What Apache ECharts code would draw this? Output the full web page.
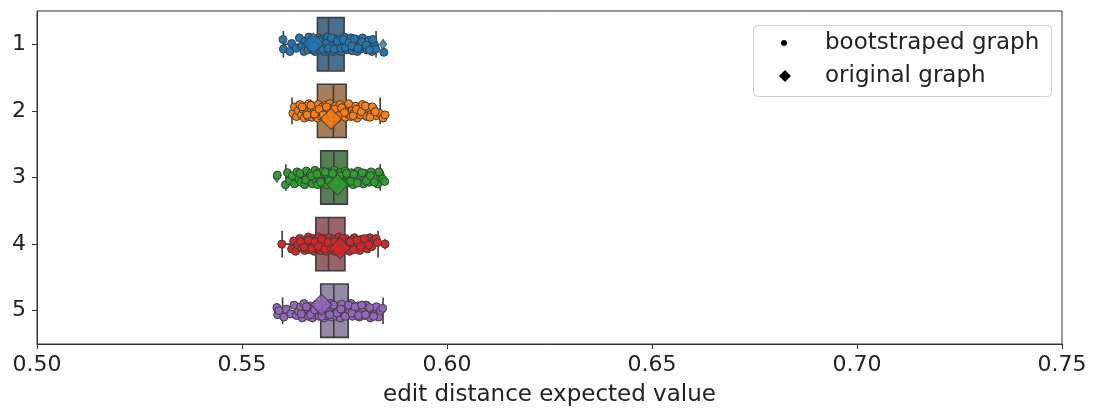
<!DOCTYPE html>
<html><head><meta charset="utf-8">
<script src="https://cdn.jsdelivr.net/npm/echarts@6/dist/echarts.min.js"></script>
<style>html,body{margin:0;padding:0;background:#fff}#c{width:1094px;height:408px}</style>
</head><body><div id="c"></div>
<script>
const categories = ['1','2','3','4','5'];
const xTicks = [0.50,0.55,0.60,0.65,0.70,0.75];
const palette = ['#1f77b4','#ff7f0e','#2ca02c','#d62728','#9467bd'];
const boxFill = ['#4a6f8e','#a77d5c','#567f56','#9a6367','#948aa5'];

// box statistics
const whiskerLow  = [0.5601,0.5622,0.5607,0.5598,0.5599];
const q1          = [0.5684,0.5684,0.5692,0.5680,0.5692];
const median      = [0.5711,0.5723,0.5724,0.5711,0.5724];
const q3          = [0.5749,0.5754,0.5757,0.5751,0.5759];
const whiskerHigh = [0.5827,0.5837,0.5837,0.5832,0.5844];
const fliers = [[0.5844,0],[0.5585,2],[0.5849,3],[0.5587,4]];

// original graph values with their strip jitter (category units)
const originalValue  = [0.5674,0.5717,0.5733,0.5739,0.5694];
const originalJitter = [-0.01,0.12,0.11,0.06,-0.09];

// bootstrapped values [value, jitter]
const boot1 = [[0.5600,-0.06],[0.5601,0.06],[0.5617,0.09],[0.5621,-0.01],[0.5632,0.05],[0.5640,-0.08],[0.5646,0.02],[0.5651,0.09],[0.5654,-0.04],[0.5661,0.07],[0.5663,-0.09],[0.5666,0.01],[0.5671,0.06],[0.5673,-0.05],[0.5678,0.09],[0.5679,-0.02],[0.5684,0.04],[0.5686,-0.08],[0.5690,0.07],[0.5693,-0.01],[0.5695,0.03],[0.5699,-0.07],[0.5701,0.09],[0.5703,-0.03],[0.5706,0.05],[0.5708,-0.09],[0.5712,0.01],[0.5713,0.08],[0.5716,-0.05],[0.5719,0.03],[0.5721,-0.02],[0.5723,0.09],[0.5726,-0.07],[0.5729,0.04],[0.5731,-0.01],[0.5734,0.07],[0.5737,-0.06],[0.5739,0.02],[0.5742,0.09],[0.5745,-0.03],[0.5748,0.05],[0.5750,-0.09],[0.5754,0.01],[0.5757,0.07],[0.5759,-0.05],[0.5763,0.03],[0.5766,-0.08],[0.5769,0.08],[0.5772,-0.02],[0.5776,0.04],[0.5779,-0.06],[0.5781,0.09],[0.5784,0.00],[0.5787,-0.04],[0.5790,0.06],[0.5794,-0.08],[0.5798,0.03],[0.5801,-0.02],[0.5805,0.07],[0.5809,-0.05],[0.5813,0.04],[0.5817,0.09],[0.5820,-0.03],[0.5824,0.02],[0.5826,0.06],[0.5846,0.10],
  [0.5668,-0.03],[0.5676,0.02],[0.5688,-0.05],[0.5697,0.06],[0.5705,-0.01],[0.5710,0.05],[0.5718,-0.08],[0.5725,0.06],[0.5733,-0.04],[0.5741,0.05],[0.5747,-0.06],[0.5752,0.04],[0.5761,-0.02],[0.5768,0.02],[0.5774,-0.07],[0.5783,0.05],[0.5792,-0.03],[0.5803,0.01],[0.5811,0.07],[0.5819,-0.06]];
const boot2 = [[0.5624,0.03],[0.5628,-0.05],[0.5633,0.07],[0.5637,0.00],[0.5641,-0.08],[0.5645,0.05],[0.5649,-0.02],[0.5652,0.09],[0.5655,-0.06],[0.5658,0.02],[0.5661,0.07],[0.5663,-0.09],[0.5666,0.04],[0.5669,-0.03],[0.5671,0.08],[0.5674,-0.06],[0.5676,0.01],[0.5679,0.06],[0.5681,-0.04],[0.5684,0.09],[0.5686,-0.08],[0.5689,0.03],[0.5691,-0.01],[0.5694,0.07],[0.5696,-0.05],[0.5699,0.02],[0.5702,0.09],[0.5704,-0.07],[0.5707,0.04],[0.5709,-0.02],[0.5712,0.06],[0.5714,-0.09],[0.5717,0.01],[0.5720,0.08],[0.5722,-0.04],[0.5725,0.05],[0.5728,-0.06],[0.5731,0.03],[0.5733,0.09],[0.5736,-0.01],[0.5739,-0.08],[0.5742,0.06],[0.5745,0.00],[0.5748,-0.05],[0.5752,0.08],[0.5755,-0.03],[0.5758,0.04],[0.5762,-0.07],[0.5766,0.07],[0.5769,-0.01],[0.5773,0.03],[0.5777,-0.06],[0.5781,0.09],[0.5785,-0.03],[0.5789,0.05],[0.5794,-0.08],[0.5799,0.02],[0.5804,0.07],[0.5809,-0.04],[0.5815,0.04],[0.5821,-0.02],[0.5828,0.06],[0.5835,0.03],[0.5844,0.09],[0.5849,0.05],
  [0.5647,-0.05],[0.5659,0.05],[0.5668,-0.07],[0.5677,0.04],[0.5688,-0.02],[0.5698,0.05],[0.5706,-0.05],[0.5716,0.03],[0.5726,-0.02],[0.5735,0.06],[0.5743,-0.04],[0.5750,0.02],[0.5760,-0.09],[0.5771,0.06],[0.5779,-0.02],[0.5791,0.01],[0.5801,-0.06],[0.5812,0.08],[0.5818,-0.05],[0.5825,0.01]];
const boot3 = [[0.5586,-0.03],[0.5606,0.09],[0.5611,-0.06],[0.5616,0.04],[0.5623,-0.02],[0.5628,0.08],[0.5634,-0.07],[0.5639,0.02],[0.5644,0.06],[0.5648,-0.04],[0.5653,0.09],[0.5657,-0.08],[0.5661,0.01],[0.5665,0.05],[0.5668,-0.05],[0.5672,0.08],[0.5675,-0.01],[0.5678,-0.09],[0.5681,0.04],[0.5684,0.09],[0.5687,-0.06],[0.5690,0.02],[0.5693,-0.02],[0.5696,0.07],[0.5698,-0.08],[0.5701,0.04],[0.5704,-0.04],[0.5707,0.09],[0.5710,0.01],[0.5713,-0.07],[0.5716,0.06],[0.5719,-0.02],[0.5722,0.03],[0.5725,-0.09],[0.5728,0.08],[0.5731,-0.04],[0.5734,0.02],[0.5737,0.06],[0.5740,-0.06],[0.5743,0.09],[0.5746,-0.01],[0.5749,0.04],[0.5752,-0.08],[0.5756,0.07],[0.5759,-0.03],[0.5763,0.02],[0.5767,-0.06],[0.5771,0.09],[0.5775,-0.01],[0.5779,0.05],[0.5783,-0.08],[0.5787,0.03],[0.5791,-0.03],[0.5796,0.08],[0.5800,-0.05],[0.5805,0.02],[0.5810,0.06],[0.5815,-0.07],[0.5820,0.04],[0.5826,-0.01],[0.5831,0.08],[0.5837,-0.04],[0.5843,0.02],[0.5848,0.05],
  [0.5641,-0.05],[0.5655,0.03],[0.5670,-0.02],[0.5683,-0.04],[0.5692,0.06],[0.5703,-0.07],[0.5712,0.04],[0.5721,-0.05],[0.5730,0.05],[0.5739,-0.02],[0.5748,0.07],[0.5755,-0.05],[0.5765,0.05],[0.5773,-0.04],[0.5781,0.07],[0.5793,-0.06],[0.5803,0.04],[0.5813,-0.02],[0.5823,0.06],[0.5834,-0.07]];
const boot4 = [[0.5597,0.00],[0.5621,0.06],[0.5626,-0.04],[0.5631,0.09],[0.5636,0.01],[0.5641,-0.07],[0.5645,0.05],[0.5649,-0.01],[0.5653,0.08],[0.5656,-0.05],[0.5659,0.03],[0.5662,-0.09],[0.5665,0.07],[0.5668,-0.02],[0.5671,0.04],[0.5673,-0.07],[0.5676,0.09],[0.5679,0.00],[0.5681,-0.05],[0.5684,0.06],[0.5687,-0.09],[0.5689,0.02],[0.5692,0.08],[0.5695,-0.03],[0.5697,0.05],[0.5700,-0.07],[0.5703,0.01],[0.5705,0.09],[0.5708,-0.04],[0.5711,0.04],[0.5713,-0.08],[0.5716,0.07],[0.5719,-0.01],[0.5722,0.03],[0.5724,-0.06],[0.5727,0.09],[0.5730,-0.02],[0.5733,0.05],[0.5736,-0.09],[0.5739,0.02],[0.5742,0.07],[0.5745,-0.04],[0.5748,0.01],[0.5752,-0.07],[0.5755,0.06],[0.5759,-0.01],[0.5762,0.09],[0.5766,-0.05],[0.5770,0.03],[0.5774,-0.08],[0.5778,0.05],[0.5782,-0.02],[0.5787,0.08],[0.5791,-0.06],[0.5796,0.02],[0.5801,-0.03],[0.5806,0.06],[0.5812,-0.08],[0.5817,0.03],[0.5822,-0.05],[0.5827,-0.07],[0.5831,-0.02],[0.5849,0.00],
  [0.5643,-0.03],[0.5651,0.04],[0.5661,-0.05],[0.5670,0.06],[0.5678,-0.03],[0.5686,0.03],[0.5694,-0.06],[0.5702,0.06],[0.5710,-0.02],[0.5718,0.05],[0.5726,-0.03],[0.5735,0.07],[0.5744,-0.07],[0.5753,0.03],[0.5764,-0.03],[0.5772,0.07],[0.5780,-0.05],[0.5789,0.03],[0.5799,-0.07],[0.5809,0.01]];
const boot5 = [[0.5585,-0.04],[0.5587,0.05],[0.5590,0.00],[0.5602,0.08],[0.5608,-0.02],[0.5619,0.04],[0.5627,-0.07],[0.5633,0.06],[0.5638,0.01],[0.5643,-0.05],[0.5647,0.09],[0.5651,-0.09],[0.5655,0.03],[0.5659,-0.02],[0.5662,0.07],[0.5666,-0.06],[0.5669,0.02],[0.5672,0.09],[0.5676,-0.04],[0.5679,0.05],[0.5682,-0.08],[0.5685,0.01],[0.5688,0.07],[0.5691,-0.03],[0.5694,0.04],[0.5697,-0.07],[0.5700,0.09],[0.5703,-0.01],[0.5706,0.06],[0.5709,-0.05],[0.5712,0.02],[0.5715,-0.09],[0.5718,0.08],[0.5721,-0.02],[0.5724,0.04],[0.5727,-0.06],[0.5730,0.07],[0.5733,0.00],[0.5736,-0.04],[0.5740,0.09],[0.5743,-0.08],[0.5746,0.03],[0.5750,-0.01],[0.5754,0.06],[0.5758,-0.05],[0.5762,0.02],[0.5766,-0.09],[0.5770,0.07],[0.5774,-0.02],[0.5778,0.04],[0.5782,-0.06],[0.5786,0.08],[0.5790,0.01],[0.5794,-0.04],[0.5799,0.06],[0.5803,-0.07],[0.5808,0.03],[0.5813,0.09],[0.5818,-0.02],[0.5823,0.05],[0.5828,-0.05],[0.5833,0.08],[0.5838,0.00],[0.5843,-0.03],
  [0.5645,0.04],[0.5657,-0.05],[0.5667,0.05],[0.5677,-0.01],[0.5686,-0.05],[0.5695,0.07],[0.5705,-0.03],[0.5714,0.05],[0.5723,-0.07],[0.5732,0.03],[0.5741,-0.02],[0.5752,0.07],[0.5760,-0.07],[0.5768,0.03],[0.5776,-0.05],[0.5784,0.06],[0.5792,-0.07],[0.5801,0.05],[0.5811,-0.04],[0.5821,0.07]];
const bootstrapped = [boot1, boot2, boot3, boot4, boot5];

const FONT = 'DejaVu Sans';
const EDGE = '#3d3d3d';
const JITTER_WIDTH = 1.2; // strip jitter spread factor

const boxData = categories.map((c, i) => [i, whiskerLow[i], q1[i], median[i], q3[i], whiskerHigh[i]]);

function renderBox(params, api) {
  const i = api.value(0);
  const band = api.size([0, 1])[1];
  const lo = api.coord([api.value(1), i]);
  const a = api.coord([api.value(2), i]);
  const m = api.coord([api.value(3), i]);
  const b = api.coord([api.value(4), i]);
  const hi = api.coord([api.value(5), i]);
  const cy = lo[1];
  const hb = band * 0.4, hc = band * 0.2;
  const ls = {stroke: EDGE, lineWidth: 1.6, fill: null};
  return {
    type: 'group',
    children: [
      {type: 'line', shape: {x1: lo[0], y1: cy, x2: a[0], y2: cy}, style: ls},
      {type: 'line', shape: {x1: b[0], y1: cy, x2: hi[0], y2: cy}, style: ls},
      {type: 'line', shape: {x1: lo[0], y1: cy - hc, x2: lo[0], y2: cy + hc}, style: ls},
      {type: 'line', shape: {x1: hi[0], y1: cy - hc, x2: hi[0], y2: cy + hc}, style: ls},
      {type: 'rect', shape: {x: a[0], y: cy - hb, width: b[0] - a[0], height: 2 * hb},
        style: {fill: boxFill[i], stroke: EDGE, lineWidth: 1.6}},
      {type: 'line', shape: {x1: m[0], y1: cy - hb, x2: m[0], y2: cy + hb}, style: ls}
    ]
  };
}

const series = [];
series.push({
  type: 'custom', name: 'box', xAxisIndex: 0, yAxisIndex: 1,
  renderItem: renderBox, data: boxData, z: 2,
  encode: {x: [1, 2, 3, 4, 5], y: 0}, silent: true
});
series.push({
  type: 'scatter', name: 'fliers', xAxisIndex: 0, yAxisIndex: 1, z: 3,
  symbol: 'diamond', symbolSize: [7, 10],
  data: fliers.map(f => ({value: [f[0], f[1]], itemStyle: {color: palette[f[1]]}})),
  itemStyle: {borderColor: EDGE, borderWidth: 1}, silent: true
});
bootstrapped.forEach((arr, i) => {
  series.push({
    type: 'scatter', name: 'boot' + i, xAxisIndex: 0, yAxisIndex: 1, z: 4,
    symbol: 'circle', symbolSize: 8,
    data: arr.map(p => [p[0], i + p[1] * JITTER_WIDTH]),
    itemStyle: {color: palette[i], borderColor: EDGE, borderWidth: 1, opacity: 1},
    silent: true
  });
});
series.push({
  type: 'scatter', name: 'original', xAxisIndex: 0, yAxisIndex: 1, z: 5,
  symbol: 'diamond', symbolSize: [21, 21],
  data: originalValue.map((v, i) => ({value: [v, i + originalJitter[i]], itemStyle: {color: palette[i]}})),
  itemStyle: {borderColor: EDGE, borderWidth: 1.2}, silent: true
});

const chart = echarts.init(document.getElementById('c'), null, {renderer: 'canvas'});
chart.setOption({
  animation: false,
  backgroundColor: '#fff',
  textStyle: {fontFamily: FONT},
  grid: {left: 37, right: 32, top: 11, bottom: 64, show: true, borderColor: '#333', borderWidth: 1,
    containLabel: false, outerBoundsMode: 'none'},
  xAxis: {
    type: 'value', min: xTicks[0], max: xTicks[xTicks.length - 1], interval: 0.05,
    axisLine: {show: true, onZero: false, lineStyle: {color: '#333', width: 1}},
    axisTick: {show: true, length: 5, lineStyle: {color: '#333'}},
    splitLine: {show: false},
    axisLabel: {fontSize: 22, color: '#222', fontFamily: FONT, margin: 10, formatter: v => v.toFixed(2)},
    name: 'edit distance expected value', nameLocation: 'middle', nameGap: 40,
    nameTextStyle: {fontSize: 23, color: '#222', fontFamily: FONT}
  },
  yAxis: [{
    type: 'category', data: categories, inverse: true, boundaryGap: true,
    axisLine: {show: true, onZero: false, lineStyle: {color: '#333', width: 1}},
    axisTick: {show: true, alignWithLabel: true, length: 5, lineStyle: {color: '#333'}},
    splitLine: {show: false},
    axisLabel: {fontSize: 22, color: '#222', fontFamily: FONT, margin: 11}
  }, {
    type: 'value', min: -0.5, max: 4.5, inverse: true, show: false
  }],
  graphic: [
    {type: 'rect', z: 100, shape: {x: 753.5, y: 25.5, width: 298, height: 71, r: 4},
      style: {fill: '#fff', stroke: '#d0d0d0', lineWidth: 1}},
    {type: 'circle', z: 101, shape: {cx: 784, cy: 43, r: 3}, style: {fill: '#000'}},
    {type: 'polygon', z: 101, shape: {points: [[785, 70], [791, 76], [785, 82], [779, 76]]}, style: {fill: '#000'}},
    {type: 'text', z: 101, x: 825, y: 43, style: {text: 'bootstraped graph', fontSize: 23, fontFamily: FONT, fill: '#222', verticalAlign: 'middle'}},
    {type: 'text', z: 101, x: 825, y: 76, style: {text: 'original graph', fontSize: 23, fontFamily: FONT, fill: '#222', verticalAlign: 'middle'}}
  ],
  series: series
});
</script>
</body></html>
